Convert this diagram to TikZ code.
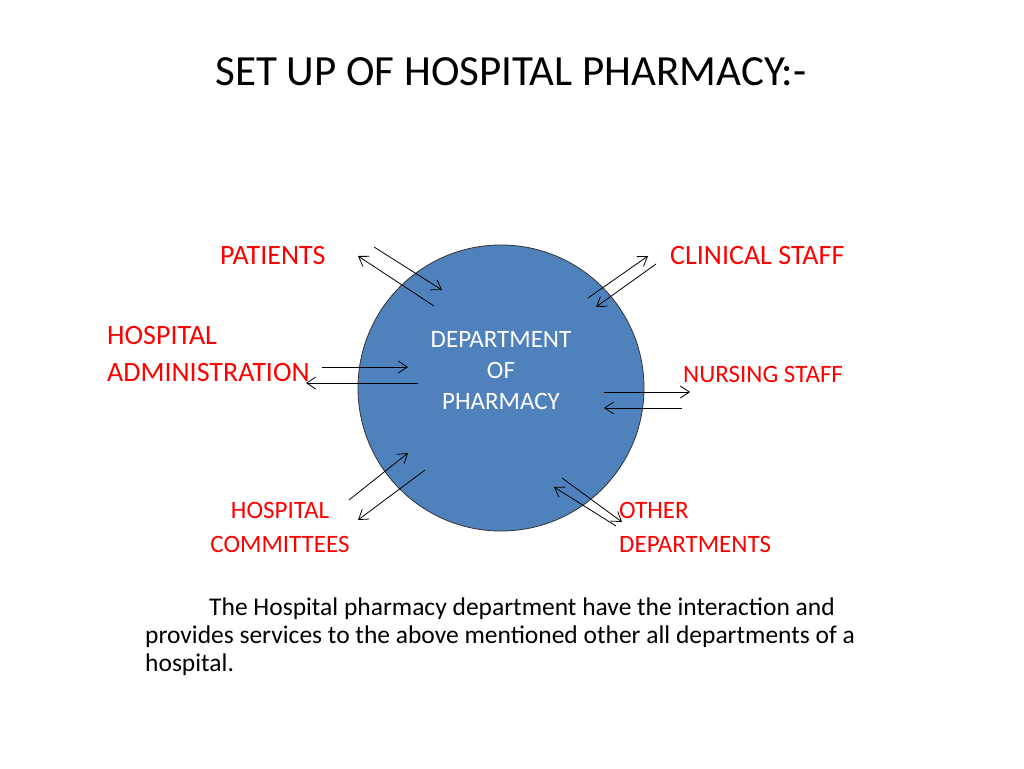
\documentclass[tikz,border=0pt]{standalone}
\usepackage{fontspec}
\setmainfont{Carlito}
\usetikzlibrary{arrows.meta}
\definecolor{pharmblue}{HTML}{4F81BD}
\definecolor{labred}{HTML}{FF0000}
\tikzset{
  lbl/.style={text=labred, font=\fontsize{28}{36}\selectfont, inner sep=0pt, align=left},
  link/.style={-{Straight Barb[length=9pt,width=12pt]}, line width=0.8pt}
}

\begin{document}
\begin{tikzpicture}[x=1pt, y=-1pt]
	\useasboundingbox (0,0) rectangle (1024,768);
	\node (title) at (511,72) {\fontsize{43}{50}\selectfont SET UP OF HOSPITAL PHARMACY:-};

	\node (dept) [circle, fill=pharmblue, draw=black!80, line width=0.8pt, minimum size=286pt] at (501,388) {};
	\node (depttext) [text=white, align=center, font=\fontsize{25}{31}\selectfont] at (501,371)
		{DEPARTMENT\\OF\\PHARMACY};

	\node (pat) [lbl, anchor=west] at (220,256) {PATIENTS};
	\node (clin) [lbl, anchor=west] at (670,256) {CLINICAL STAFF};
	\node (admin) [lbl, anchor=west, font=\fontsize{28}{37}\selectfont] at (107,354) {HOSPITAL\\ADMINISTRATION};
	\node (nurse) [lbl, anchor=west, font=\fontsize{25}{30}\selectfont] at (683,374) {NURSING STAFF};
	\node (comm) [lbl, align=center, font=\fontsize{25}{34}\selectfont] at (280,527) {HOSPITAL\\COMMITTEES};
	\node (other) [lbl, font=\fontsize{25}{34}\selectfont, anchor=west] at (619,527) {OTHER\\DEPARTMENTS};

	\node (note) [anchor=north west, align=left, inner sep=0pt, font=\fontsize{25.5}{28}\selectfont] at (145,598)
		{\hspace{64pt}The Hospital pharmacy department have the interaction and\\
		provides services to the above mentioned other all departments of a\\
		hospital.};

	% connector end points
	\coordinate (p1) at (374,247); \coordinate (p2) at (442,290);
	\coordinate (p3) at (434,306); \coordinate (p4) at (358,256);
	\coordinate (c1) at (588,298); \coordinate (c2) at (648,256);
	\coordinate (c3) at (656,264); \coordinate (c4) at (596,307);
	\coordinate (a1) at (322,367); \coordinate (a2) at (408,367);
	\coordinate (a3) at (418,383); \coordinate (a4) at (306,383);
	\coordinate (n1) at (604,392); \coordinate (n2) at (690,392);
	\coordinate (n3) at (682,408); \coordinate (n4) at (604,408);
	\coordinate (h1) at (349,500); \coordinate (h2) at (408,453);
	\coordinate (h3) at (425,470); \coordinate (h4) at (358,520);
	\coordinate (o1) at (562,478); \coordinate (o2) at (622,522);
	\coordinate (o3) at (616,526); \coordinate (o4) at (554,487);

	\draw [link] (p1) -- (p2);
	\draw [link] (p3) -- (p4);
	\draw [link] (c1) -- (c2);
	\draw [link] (c3) -- (c4);
	\draw [link] (a1) -- (a2);
	\draw [link] (a3) -- (a4);
	\draw [link] (n1) -- (n2);
	\draw [link] (n3) -- (n4);
	\draw [link] (h1) -- (h2);
	\draw [link] (h3) -- (h4);
	\draw [link] (o1) -- (o2);
	\draw [link] (o3) -- (o4);
\end{tikzpicture}
\end{document}
